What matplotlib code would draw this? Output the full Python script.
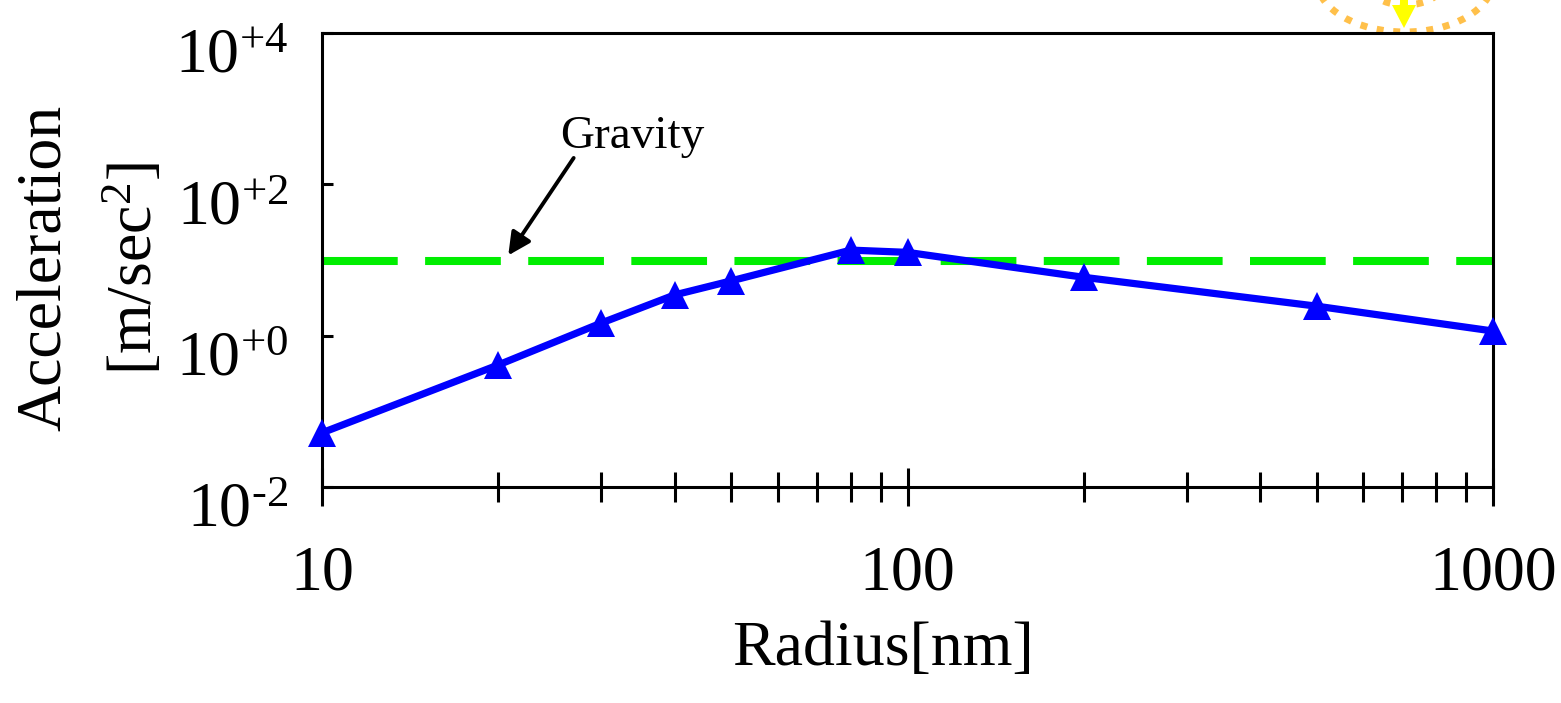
import numpy as np
import matplotlib
matplotlib.use("Agg")
import matplotlib.pyplot as plt
import matplotlib.transforms as mtransforms
from matplotlib.patches import Arc, Polygon
from matplotlib.ticker import FixedLocator, NullLocator, NullFormatter

plt.rcParams['font.family'] = ['Liberation Serif', 'DejaVu Serif']
plt.rcParams['mathtext.fontset'] = 'custom'
plt.rcParams['mathtext.rm'] = 'Liberation Serif'

# data
radius_nm = [10, 20, 30, 40, 50, 80, 100, 200, 500, 1000]
acceleration = [0.052, 0.41, 1.47, 3.45, 5.3, 13.5, 12.6, 5.9, 2.45, 1.15]
gravity = 9.8

x_major = [10, 100, 1000]
x_major_labels = ["10", "100", "1000"]
y_major = [1e-2, 1e0, 1e2, 1e4]
y_major_labels = [r"$\mathregular{10^{\text{-}2}}$", r"$\mathregular{10^{+0}}$",
                  r"$\mathregular{10^{+2}}$", r"$\mathregular{10^{+4}}$"]

fig = plt.figure(figsize=(15.61, 7.03), dpi=100)
ax = fig.add_axes([0.2063, 0.3073, 0.7502, 0.6458])

ax.set_xscale('log')
ax.set_yscale('log')
ax.set_xlim(10, 1000)
ax.set_ylim(1e-2, 1e4)

# gravity reference line
ax.axhline(gravity, color='#00ee00', lw=5.8, dashes=(9.4, 3.4), dash_capstyle='butt',
           zorder=2)

# model curve
ax.plot(radius_nm, acceleration, color='#0000ff', lw=5.2, marker='^',
        markersize=20, markeredgewidth=0, zorder=3, clip_on=False)

# annotation for gravity
ax.annotate('', xy=(20.8, 11.5), xytext=(26.9, 223),
            arrowprops=dict(arrowstyle='-|>', color='black', lw=2.8,
                            mutation_scale=34, shrinkA=0, shrinkB=0))
ax.text(33.9, 420, 'Gravity', fontsize=34, ha='center', va='center')

# ticks
ax.xaxis.set_major_locator(FixedLocator(x_major))
ax.set_xticklabels(x_major_labels)
ax.xaxis.set_minor_locator(FixedLocator([20, 30, 40, 50, 60, 70, 80, 90,
                                         200, 300, 400, 500, 600, 700, 800, 900]))
ax.xaxis.set_minor_formatter(NullFormatter())
ax.yaxis.set_major_locator(FixedLocator(y_major))
ax.set_yticklabels(y_major_labels)
ax.yaxis.set_minor_locator(NullLocator())

ax.tick_params(axis='x', which='major', direction='inout', length=27, width=2.2,
               labelsize=46, pad=29, top=False)
ax.tick_params(axis='x', which='minor', direction='inout', length=22, width=2.2,
               top=False)
ax.tick_params(axis='y', which='major', direction='in', length=8, width=2.2,
               labelsize=46, pad=24, right=False)

# y labels sit a little below their ticks in the source
shift = mtransforms.ScaledTranslation(0, -18 / 100, fig.dpi_scale_trans)
for lab in ax.get_yticklabels():
    lab.set_transform(lab.get_transform() + shift)

for s in ax.spines.values():
    s.set_linewidth(2.2)

# axis titles
fig.text(0.5655, 1 - 650 / 703, 'Radius[nm]', fontsize=46, ha='center', va='center')
fig.text(45 / 1561, 1 - 268 / 703, 'Acceleration', fontsize=46, rotation=90,
         ha='center', va='center')
fig.text(135 / 1561, 1 - 268 / 703, r'[m/sec$\mathregular{^2}$]', fontsize=46,
         rotation=90, ha='center', va='center')

# stray decoration in the top-right corner of the source image
ov = fig.add_axes([0, 0, 1, 1], zorder=-1)
ov.set_xlim(0, 1561)
ov.set_ylim(703, 0)
ov.axis('off')
ov.add_patch(Arc((1405, -20), 176, 104, theta1=0, theta2=360, color='#ffc04a',
                 lw=5, linestyle=(0, (1.0, 1.4))))
ov.add_patch(Arc((1405, -20), 80, 50, theta1=0, theta2=360, color='#ffc04a',
                 lw=5, linestyle=(0, (1.0, 1.4))))
ov.add_patch(Polygon([(1392, 5), (1416, 5), (1404, 28)], closed=True,
                     color='#ffff00', lw=0))
ov.add_patch(Polygon([(1400, 0), (1408, 0), (1408, 6), (1400, 6)], closed=True,
                     color='#ffff00', lw=0))

fig.savefig('out.png', dpi=100)
